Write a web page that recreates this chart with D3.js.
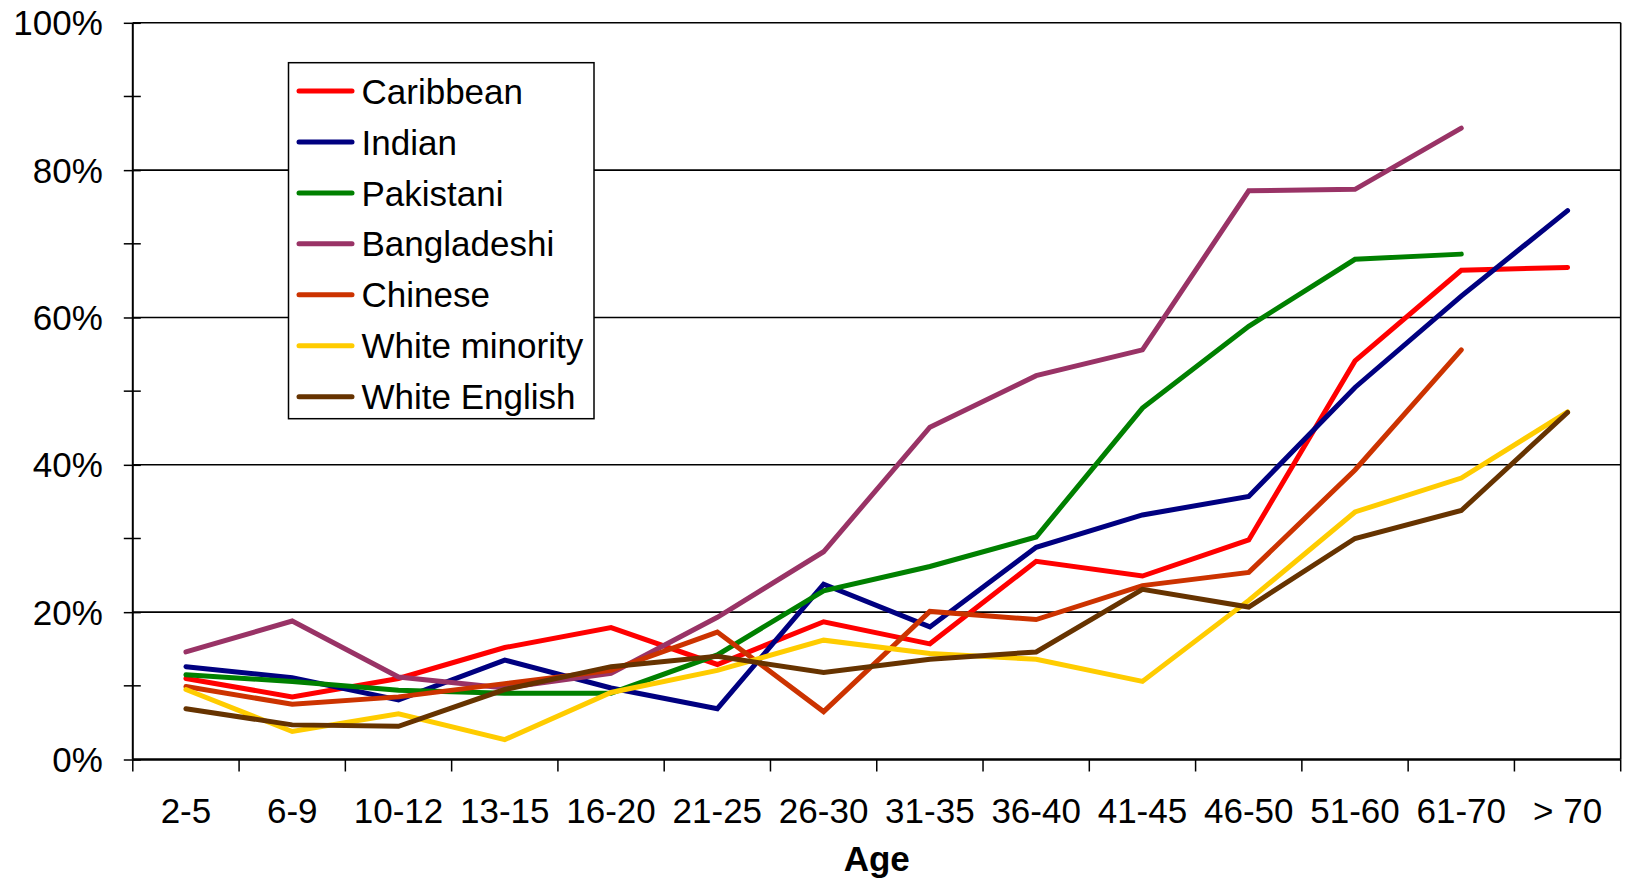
<!DOCTYPE html>
<html>
<head>
<meta charset="utf-8">
<script src="https://cdn.jsdelivr.net/npm/d3@7"></script>
<style>
  html, body { margin: 0; padding: 0; background: #fff; }
  svg { display: block; font-family: "Liberation Sans", Arial, sans-serif; }
</style>
</head>
<body>
<svg id="chart" width="1627" height="879"></svg>
<script>
// age groups on the x axis
const ages = ["2-5", "6-9", "10-12", "13-15", "16-20", "21-25", "26-30",
  "31-35", "36-40", "41-45", "46-50", "51-60", "61-70", "> 70"];

// percentages per group
const caribbean     = [11.0, 8.5, 11.0, 15.2, 17.9, 12.9, 18.7, 15.7, 26.9, 24.9, 29.8, 54.1, 66.4, 66.8];
const indian        = [12.6, 11.1, 8.1, 13.5, 9.7, 6.9, 23.8, 18.0, 28.8, 33.2, 35.7, 50.5, 62.9, 74.5];
const pakistani     = [11.5, 10.6, 9.4, 9.0, 9.0, 14.2, 22.9, 26.2, 30.2, 47.7, 58.8, 67.9, 68.6, null];
const bangladeshi   = [14.6, 18.8, 11.2, 9.7, 11.7, 19.3, 28.2, 45.1, 52.1, 55.6, 77.2, 77.4, 85.7, null];
const chinese       = [9.9, 7.5, 8.5, 10.3, 12.1, 17.3, 6.5, 20.1, 19.0, 23.6, 25.4, 39.3, 55.6, null];
const whiteMinority = [9.5, 3.8, 6.2, 2.7, 9.1, 12.1, 16.2, 14.4, 13.6, 10.6, 21.6, 33.6, 38.2, 47.2];
const whiteEnglish  = [6.9, 4.7, 4.5, 9.5, 12.6, 14.0, 11.8, 13.6, 14.6, 23.1, 20.7, 30.0, 33.8, 47.1];

const seriesNames  = ["Caribbean", "Indian", "Pakistani", "Bangladeshi", "Chinese", "White minority", "White English"];
const seriesValues = [caribbean, indian, pakistani, bangladeshi, chinese, whiteMinority, whiteEnglish];
const seriesColors = ["#ff0000", "#000080", "#008000", "#993366", "#cc3300", "#ffcc00", "#663300"];

const yTicks = [0, 20, 40, 60, 80, 100];
const yMinorTicks = [10, 30, 50, 70, 90];

const WIDTH = 1627;
const HEIGHT = 879;
const MARGINS = { top: 22.8, right: 6.3, bottom: 119.5, left: 132.8 };
const FONT = 35;
const LINE_W = 5;

const svg = d3.select("#chart");

const xScale = d3.scaleBand()
  .domain(ages)
  .range([MARGINS.left, WIDTH - MARGINS.right])
  .paddingInner(0)
  .paddingOuter(0);

const yScale = d3.scaleLinear()
  .domain([0, 100])
  .range([HEIGHT - MARGINS.bottom, MARGINS.top]);

const x0 = MARGINS.left, x1 = WIDTH - MARGINS.right;
const y0 = HEIGHT - MARGINS.bottom, y1 = MARGINS.top;

// gridlines
svg.append("g")
  .selectAll("line")
  .data(yTicks.filter(d => d > 0))
  .join("line")
  .attr("x1", x0).attr("x2", x1)
  .attr("y1", d => yScale(d)).attr("y2", d => yScale(d))
  .attr("stroke", "#000")
  .attr("stroke-width", 1.6);

// right border of plot area
svg.append("line")
  .attr("x1", x1).attr("x2", x1)
  .attr("y1", y1).attr("y2", y0)
  .attr("stroke", "#000")
  .attr("stroke-width", 1.6);

// y axis
const yAxis = d3.axisLeft(yScale)
  .tickValues(yTicks)
  .tickSize(9)
  .tickPadding(21)
  .tickFormat(d => d + "%");

const yAxisG = svg.append("g")
  .attr("class", "y-axis")
  .attr("transform", `translate(${x0},0)`)
  .call(yAxis);
yAxisG.select(".domain").attr("stroke-width", 2).attr("d", `M0,${y0}V${y1}`);
yAxisG.selectAll(".tick line").attr("x2", -9).attr("x1", 8).attr("stroke-width", 1.5);
yAxisG.selectAll(".tick text")
  .attr("font-size", FONT)
  .attr("fill", "#000")
  .attr("dy", "0.34em");

// minor y ticks
yAxisG.append("g")
  .selectAll("line")
  .data(yMinorTicks)
  .join("line")
  .attr("x1", -9).attr("x2", 8)
  .attr("y1", d => yScale(d)).attr("y2", d => yScale(d))
  .attr("stroke", "#000")
  .attr("stroke-width", 1.5);

// x axis (labels at band centres, tick marks at band edges)
const xAxis = d3.axisBottom(xScale)
  .tickSize(0)
  .tickPadding(39);

const xAxisG = svg.append("g")
  .attr("class", "x-axis")
  .attr("transform", `translate(0,${y0})`)
  .call(xAxis);
xAxisG.select(".domain").attr("stroke-width", 2.5).attr("d", `M${x0},0H${x1}`);
xAxisG.selectAll(".tick text")
  .attr("font-size", FONT)
  .attr("fill", "#000");

const edges = ages.map(a => xScale(a)).concat([x1]);
xAxisG.append("g")
  .selectAll("line")
  .data(edges)
  .join("line")
  .attr("x1", d => d).attr("x2", d => d)
  .attr("y1", 0).attr("y2", 12)
  .attr("stroke", "#000")
  .attr("stroke-width", 1.5);

// axis title
svg.append("text")
  .attr("x", (x0 + x1) / 2)
  .attr("y", 871)
  .attr("text-anchor", "middle")
  .attr("font-size", FONT)
  .attr("font-weight", "bold")
  .text("Age");

// lines
const line = d3.line()
  .defined(d => d != null)
  .x((d, i) => xScale(ages[i]) + xScale.bandwidth() / 2)
  .y(d => yScale(d));

svg.append("g")
  .selectAll("path")
  .data(seriesValues)
  .join("path")
  .attr("fill", "none")
  .attr("stroke", (d, i) => seriesColors[i])
  .attr("stroke-width", LINE_W)
  .attr("stroke-linejoin", "miter")
  .attr("stroke-linecap", "round")
  .attr("d", line);

// legend
const legend = svg.append("g").attr("class", "legend");
legend.append("rect")
  .attr("x", 288.5).attr("y", 62.7)
  .attr("width", 305.5).attr("height", 356)
  .attr("fill", "#fff")
  .attr("stroke", "#000")
  .attr("stroke-width", 1.5);

const rows = legend.selectAll("g.row")
  .data(seriesNames)
  .join("g")
  .attr("class", "row")
  .attr("transform", (d, i) => `translate(0,${91 + i * 50.95})`);

rows.append("line")
  .attr("x1", 299).attr("x2", 352)
  .attr("stroke", (d, i) => seriesColors[i])
  .attr("stroke-width", LINE_W)
  .attr("stroke-linecap", "round");

rows.append("text")
  .attr("x", 361.5)
  .attr("dy", "0.36em")
  .attr("font-size", FONT)
  .attr("fill", "#000")
  .text(d => d);
</script>
</body>
</html>
